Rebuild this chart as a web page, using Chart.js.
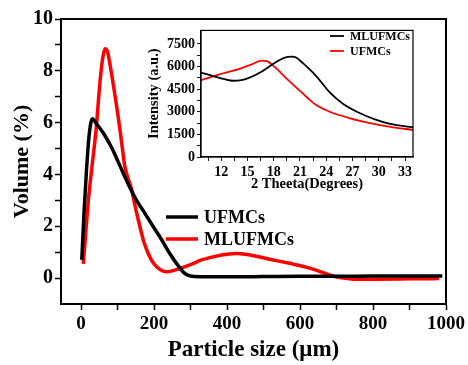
<!DOCTYPE html>
<html>
<head>
<meta charset="utf-8">
<script src="https://cdn.jsdelivr.net/npm/chart.js@4/dist/chart.umd.min.js"></script>
<style>
  html, body { margin: 0; padding: 0; background: #fff; }
  #wrap { position: relative; width: 468px; height: 365px; }
  #main { position: absolute; left: 0; top: 0; }
  #inset { position: absolute; left: 140px; top: 20px; }
</style>
</head>
<body>
<div id="wrap">
  <canvas id="main" width="468" height="365"></canvas>
  <canvas id="inset" width="290" height="180"></canvas>
</div>
<script>
// particle size distribution (main plot)
const ufSize = [2, 8, 15, 22, 31, 40, 61, 85, 106, 130, 152, 175, 198, 220, 243, 265, 284, 300, 325, 400, 500, 600, 700, 800, 900, 990];
const ufVolume = [0.7, 2.5, 4.2, 5.5, 6.15, 6.0, 5.6, 5.0, 4.35, 3.6, 3.0, 2.5, 1.98, 1.5, 0.95, 0.5, 0.18, 0.08, 0.05, 0.05, 0.06, 0.07, 0.07, 0.08, 0.08, 0.08];
const mlSize = [6, 12, 20, 29, 41, 52, 60, 66, 73, 78, 84, 93, 102, 111, 120, 130, 138, 150, 161, 172, 184, 195, 207, 220, 232, 250, 270, 300, 330, 362, 400, 425, 450, 480, 520, 571, 610, 644, 670, 690, 720, 744, 800, 900, 981];
const mlVolume = [0.55, 1.6, 3.0, 4.2, 5.7, 7.6, 8.55, 8.85, 8.72, 8.35, 7.85, 7.05, 6.2, 5.25, 4.3, 3.8, 3.45, 2.65, 2.0, 1.4, 0.95, 0.65, 0.44, 0.3, 0.24, 0.28, 0.37, 0.52, 0.7, 0.82, 0.92, 0.95, 0.92, 0.84, 0.72, 0.57, 0.45, 0.31, 0.18, 0.08, 0.0, -0.04, -0.04, -0.03, -0.02];
const sizeTicks = [0, 100, 200, 300, 400, 500, 600, 700, 800, 900, 1000];
const volumeTicks = [0, 1, 2, 3, 4, 5, 6, 7, 8, 9, 10];

// XRD (inset)
const mlTheta = [9.7, 11, 12.3, 13.35, 14.3, 15.1, 16.6, 18.1, 19.6, 20.1, 20.6, 21.4, 22.9, 24.4, 25.9, 27.5, 29.4, 31.3, 33.9];
const mlIntensity = [5600, 5380, 5180, 5060, 5100, 5230, 5660, 6240, 6650, 6660, 6580, 6190, 5340, 4280, 3530, 3000, 2530, 2190, 1970];
const ufTheta = [9.7, 11.6, 13.9, 15.5, 16.6, 17.2, 18.1, 19.6, 20.8, 21.9, 22.9, 24.4, 26.7, 29, 31.3, 33.9];
const ufIntensity = [5090, 5450, 5810, 6150, 6400, 6360, 5980, 5130, 4490, 3900, 3430, 3000, 2570, 2250, 2000, 1790];
const thetaTicks = [10.5, 12, 13.5, 15, 16.5, 18, 19.5, 21, 22.5, 24, 25.5, 27, 28.5, 30, 31.5, 33];
const intensityTicks = [0, 750, 1500, 2250, 3000, 3750, 4500, 5250, 6000, 6750, 7500];

const serif = "'Liberation Serif', 'Times New Roman', serif";

function pts(xs, ys) {
  return xs.map((x, i) => ({ x: x, y: ys[i] }));
}

// frame around the plot area + hand placed legend
const framePlugin = {
  id: 'frame',
  afterDraw(chart, args, opts) {
    const c = chart.ctx, a = chart.chartArea;
    c.save();
    c.strokeStyle = '#000';
    c.lineWidth = opts.width;
    c.strokeRect(a.left, a.top, a.right - a.left, a.bottom - a.top);
    c.font = 'bold ' + opts.fontSize + 'px ' + serif;
    c.textBaseline = 'middle';
    opts.items.forEach((it, i) => {
      const ds = chart.data.datasets[it.ds];
      const y = opts.y + i * opts.gap;
      c.strokeStyle = ds.borderColor;
      c.lineWidth = ds.borderWidth;
      c.beginPath();
      c.moveTo(opts.x, y);
      c.lineTo(opts.x + opts.len, y);
      c.stroke();
      c.fillStyle = '#000';
      c.fillText(ds.label, opts.x + opts.len + 6, y + 1);
    });
    c.restore();
  }
};

function axis(min, max, ticks, labelFn, fontSize, tickLen, size, title, titleSize, titlePad, horizontal, bw) {
  return {
    type: 'linear',
    min: min,
    max: max,
    afterBuildTicks: s => { s.ticks = ticks.map(v => ({ value: v })); },
    afterFit: s => { if (horizontal) s.height = size; else s.width = size; },
    border: { display: true, color: '#000', width: bw },
    grid: { drawOnChartArea: false, drawTicks: true, tickLength: tickLen, color: '#000', tickColor: '#000', tickWidth: bw * 0.75 },
    ticks: {
      color: '#000',
      padding: horizontal ? 3 : 2,
      maxRotation: 0,
      autoSkip: false,
      font: { family: serif, size: fontSize, weight: 'bold' },
      callback: labelFn
    },
    title: {
      display: true,
      text: title,
      color: '#000',
      padding: titlePad,
      font: { family: serif, size: titleSize, weight: 'bold', lineHeight: 1.2 }
    }
  };
}

new Chart(document.getElementById('main'), {
  type: 'line',
  data: {
    datasets: [
      { label: 'UFMCs', data: pts(ufSize, ufVolume), borderColor: '#000000', borderWidth: 3.5 },
      { label: 'MLUFMCs', data: pts(mlSize, mlVolume), borderColor: '#ff0000', borderWidth: 3.5 }
    ]
  },
  options: {
    responsive: false,
    animation: false,
    layout: { padding: { left: 0, top: 19, right: 20, bottom: 0 } },
    elements: { point: { radius: 0 }, line: { cubicInterpolationMode: 'monotone' } },
    plugins: {
      legend: { display: false },
      tooltip: { enabled: false },
      frame: { width: 2, fontSize: 18, x: 166, y: 217, gap: 22, len: 32, items: [{ ds: 0 }, { ds: 1 }] }
    },
    scales: {
      x: axis(-55, 1000, sizeTicks, v => (v % 200 === 0 ? v : ''), 19, 6, 61, 'Particle size (\u03bcm)', 23, { top: 0, bottom: 1 }, true, 2),
      y: axis(-1, 10, volumeTicks, v => (v % 2 === 0 ? v : ''), 20, 6, 61, 'Volume (%)', 22, { top: 9, bottom: 0 }, false, 2)
    }
  },
  plugins: [framePlugin]
});

new Chart(document.getElementById('inset'), {
  type: 'line',
  data: {
    datasets: [
      { label: 'MLUFMCs', data: pts(mlTheta, mlIntensity), borderColor: '#000000', borderWidth: 1.8 },
      { label: 'UFMCs', data: pts(ufTheta, ufIntensity), borderColor: '#ff0000', borderWidth: 1.8 }
    ]
  },
  options: {
    responsive: false,
    animation: false,
    layout: { padding: { left: 0, top: 5, right: 17, bottom: 0 } },
    elements: { point: { radius: 0 }, line: { cubicInterpolationMode: 'monotone' } },
    plugins: {
      legend: { display: false },
      tooltip: { enabled: false },
      frame: { width: 1.2, fontSize: 12, x: 190, y: 16, gap: 15, len: 14, items: [{ ds: 0 }, { ds: 1 }] }
    },
    scales: {
      x: axis(9.7, 33.9, thetaTicks, v => (v % 3 === 0 ? v : ''), 14, 4, 43, '2 Theeta(Degrees)', 14.5, { top: 0, bottom: 7 }, true, 1.2),
      y: axis(0, 8400, intensityTicks, v => (v % 1500 === 0 ? v : ''), 14, 4, 61, 'Intensity (a.u.)', 14.5, { top: 6, bottom: 0 }, false, 1.2)
    }
  },
  plugins: [framePlugin]
});
</script>
</body>
</html>
